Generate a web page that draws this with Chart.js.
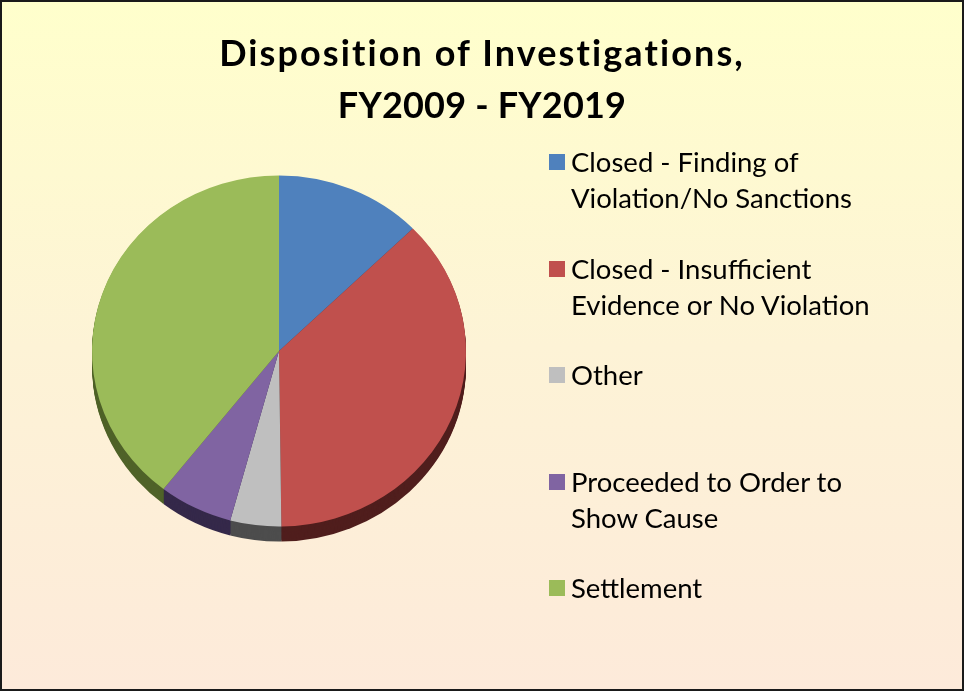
<!DOCTYPE html>
<html>
<head>
<meta charset="utf-8">
<script src="https://cdn.jsdelivr.net/npm/chart.js@4"></script>
<style>
  html, body { margin: 0; padding: 0; }
  body { width: 964px; height: 691px; overflow: hidden; }
  #frame {
    position: relative; width: 964px; height: 691px; box-sizing: border-box;
    border: 2px solid #1a1a1a;
    background: linear-gradient(to bottom, #ffffcc 0%, #fdf3d6 50%, #fdeada 100%);
    font-family: Lato, "Open Sans", sans-serif; color: #000;
  }
  #title {
    position: absolute; left: -2px; top: 24px; width: 964px; text-align: center;
    font-weight: bold; font-size: 36px; line-height: 52px;
  }
  #title .l1 { letter-spacing: 2.1px; }
  #title .l2 { letter-spacing: 0.2px; }
  #chartBox { position: absolute; left: -2px; top: -2px; width: 964px; height: 691px; }
  .item { position: absolute; left: 569px; font-size: 27.5px; line-height: 36px; white-space: nowrap; }
  .swatch { position: absolute; left: -22px; top: 10px; width: 16px; height: 16px; }
</style>
</head>
<body>
<div id="frame">
  <div id="chartBox"><canvas id="pie"></canvas></div>
  <div id="title"><span class="l1">Disposition of Investigations,</span><br><span class="l2">FY2009 - FY2019</span></div>
  <div id="legend"></div>
</div>
<script>
const categories = [
  ['Closed - Finding of', 'Violation/No Sanctions'],
  ['Closed - Insufficient', 'Evidence or No Violation'],
  ['Other'],
  ['Proceeded to Order to', 'Show Cause'],
  ['Settlement']
];
const shares = [12.7, 37.1, 4.4, 6.4, 39.4];   // percent of investigations
const colors = ['#4f81bd', '#c0504d', '#bfbfbf', '#8064a2', '#9bbb59'];
const sideColors = ['#28415f', '#501e1d', '#4d4d4d', '#35294a', '#4f6228'];

const squash = 0.9385;  // vertical flattening of the pie
const depth = 15;       // thickness of the pie edge in px

// fake 3D: squash the pie and draw a darker edge underneath
const tiltPlugin = {
  id: 'tilt',
  beforeDatasetsDraw(chart) {
    const ctx = chart.ctx;
    const arcs = chart.getDatasetMeta(0).data;
    const cx = arcs[0].x, cy = arcs[0].y;
    ctx.save();
    ctx.translate(cx, cy);
    ctx.scale(1, squash);
    ctx.translate(-cx, -cy);
    for (let d = depth / squash; d > 0; d -= 1) {
      arcs.forEach((arc, i) => {
        ctx.beginPath();
        ctx.moveTo(arc.x, arc.y + d);
        ctx.arc(arc.x, arc.y + d, arc.outerRadius, arc.startAngle, arc.endAngle);
        ctx.closePath();
        ctx.fillStyle = sideColors[i];
        ctx.fill();
      });
    }
  },
  afterDatasetsDraw(chart) {
    chart.ctx.restore();
  }
};

new Chart(document.getElementById('pie'), {
  type: 'pie',
  data: {
    labels: categories,
    datasets: [{
      data: shares,
      backgroundColor: colors,
      borderWidth: 0,
      hoverOffset: 0,
      offset: 0,
      clip: false
    }]
  },
  options: {
    responsive: true,
    maintainAspectRatio: false,
    animation: false,
    events: [],
    layout: { padding: { left: 92, right: 498, top: 164, bottom: 153 } },
    plugins: {
      legend: { display: false },
      title: { display: false },
      tooltip: { enabled: false }
    }
  },
  plugins: [tiltPlugin]
});

// legend, one block per category
const legend = document.getElementById('legend');
categories.forEach((lines, i) => {
  const item = document.createElement('div');
  item.className = 'item';
  item.style.top = (142 + i * 106.6) + 'px';
  item.innerHTML = '<span class="swatch" style="background:' + colors[i] + '"></span>' + lines.join('<br>');
  legend.appendChild(item);
});
</script>
</body>
</html>
